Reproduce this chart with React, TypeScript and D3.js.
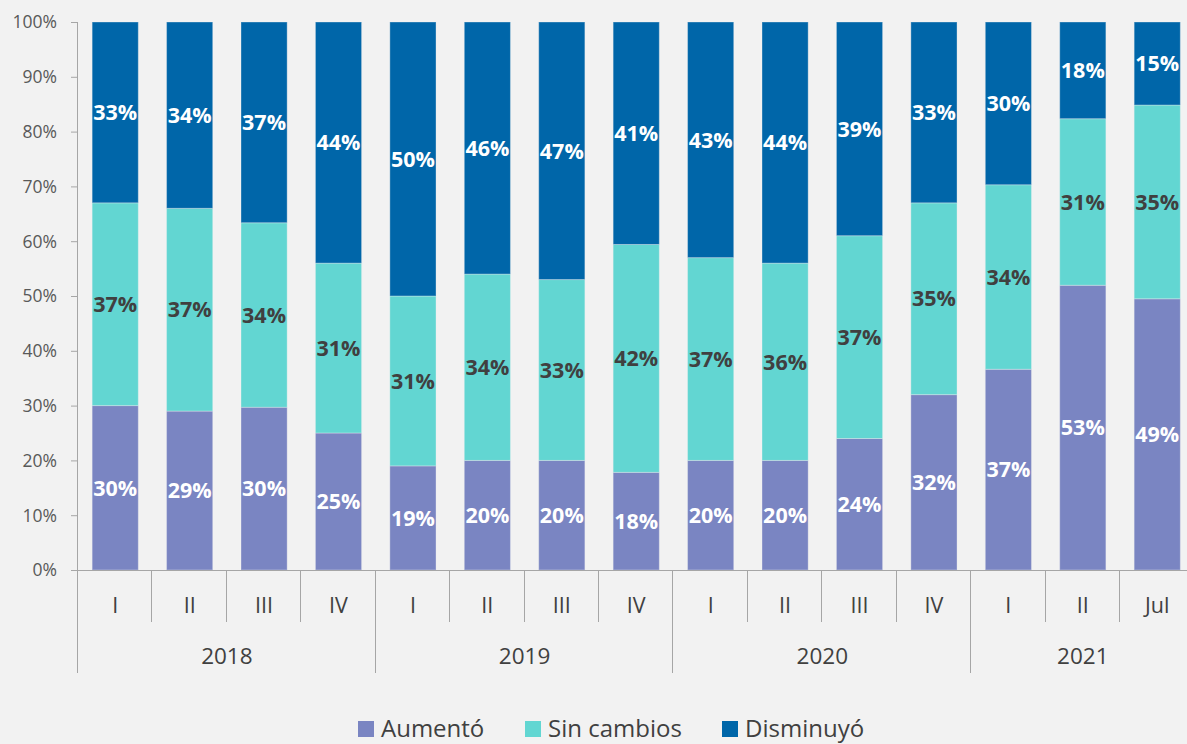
import * as d3 from 'd3'
import { useEffect, useRef } from 'react'

const W = 1187
const H = 744
const margin = { top: 22, left: 78, bottom: 174 }
const bandStep = 74.43

const periods = ['I', 'II', 'III', 'IV', 'I', 'II', 'III', 'IV', 'I', 'II', 'III', 'IV', 'I', 'II', 'Jul']
const years = ['2018', '2019', '2020', '2021']
const yearSpans = [4, 4, 4, 3]

const aumento = [30, 29, 30, 25, 19, 20, 20, 18, 20, 20, 24, 32, 37, 53, 49]
const sinCambios = [37, 37, 34, 31, 31, 34, 33, 42, 37, 36, 37, 35, 34, 31, 35]
const disminuyo = [33, 34, 37, 44, 50, 46, 47, 41, 43, 44, 39, 33, 30, 18, 15]

const seriesNames = ['Aumentó', 'Sin cambios', 'Disminuyó']
const seriesColors = ['#7a85c2', '#62d6d2', '#0066a9']
const labelColors = ['#ffffff', '#404040', '#ffffff']
const yTicks = [0, 0.1, 0.2, 0.3, 0.4, 0.5, 0.6, 0.7, 0.8, 0.9, 1]

const font = '"Open Sans", sans-serif'

export default function App() {
  const ref = useRef<SVGSVGElement>(null)

  useEffect(() => {
    const svg = d3.select(ref.current)
    svg.selectAll('*').remove()

    const rows = periods.map((p, i) => ({
      i: String(i),
      a: aumento[i],
      s: sinCambios[i],
      d: disminuyo[i],
    }))
    const stack = d3
      .stack<any>()
      .keys(['a', 's', 'd'])
      .offset(d3.stackOffsetExpand)
    const layers = stack(rows)
    const values = [aumento, sinCambios, disminuyo]

    const x = d3
      .scaleBand()
      .domain(rows.map((r) => r.i))
      .range([margin.left, margin.left + bandStep * periods.length])
      .paddingInner(0.38)
      .paddingOuter(0.19)
    const y = d3.scaleLinear().domain([0, 1]).range([H - margin.bottom, margin.top])
    const y0 = y(0)
    const axisColor = '#a6a6a6'

    svg.append('rect').attr('width', W).attr('height', H).attr('fill', '#f2f2f2')

    // bars + labels
    layers.forEach((layer, k) => {
      const g = svg.append('g')
      g.selectAll('rect')
        .data(layer)
        .join('rect')
        .attr('x', (_, i) => x(String(i))!)
        .attr('width', x.bandwidth())
        .attr('y', (d) => y(d[1]))
        .attr('height', (d) => y(d[0]) - y(d[1]))
        .attr('fill', seriesColors[k])
        .attr('stroke', '#f2f2f2')
        .attr('stroke-opacity', 0.35)
        .attr('stroke-width', 1)
      g.selectAll('text')
        .data(layer)
        .join('text')
        .attr('x', (_, i) => x(String(i))! + x.bandwidth() / 2)
        .attr('y', (d) => (y(d[0]) + y(d[1])) / 2)
        .attr('dy', '0.36em')
        .attr('text-anchor', 'middle')
        .attr('font-family', font)
        .attr('font-weight', 'bold')
        .attr('font-size', 21.5)
        .attr('fill', labelColors[k])
        .text((_, i) => `${values[k][i]}%`)
    })

    // y axis
    const yAxis = svg.append('g')
    yAxis
      .append('line')
      .attr('x1', margin.left - 0.5)
      .attr('x2', margin.left - 0.5)
      .attr('y1', y(1))
      .attr('y2', y0)
      .attr('stroke', axisColor)
    yAxis
      .selectAll('line.tick')
      .data(yTicks)
      .join('line')
      .attr('class', 'tick')
      .attr('x1', margin.left - 7)
      .attr('x2', margin.left)
      .attr('y1', (d) => y(d) + 0.5)
      .attr('y2', (d) => y(d) + 0.5)
      .attr('stroke', axisColor)
    yAxis
      .selectAll('text')
      .data(yTicks)
      .join('text')
      .attr('x', 57)
      .attr('y', (d) => y(d))
      .attr('dy', '0.36em')
      .attr('text-anchor', 'end')
      .attr('font-family', font)
      .attr('font-size', 17.5)
      .attr('fill', '#595959')
      .text((d) => d3.format('.0%')(d))

    // x axis
    const xAxis = svg.append('g')
    xAxis
      .append('line')
      .attr('x1', margin.left - 7)
      .attr('x2', W)
      .attr('y1', y0 + 0.5)
      .attr('y2', y0 + 0.5)
      .attr('stroke', axisColor)
    const boundaries = d3.range(periods.length + 1)
    const yearStarts = Array.from(d3.cumsum([0, ...yearSpans]))
    xAxis
      .selectAll('line.sep')
      .data(boundaries)
      .join('line')
      .attr('class', 'sep')
      .attr('x1', (b) => Math.round(margin.left + b * bandStep) - 0.5)
      .attr('x2', (b) => Math.round(margin.left + b * bandStep) - 0.5)
      .attr('y1', y0)
      .attr('y2', (b) => (yearStarts.includes(b) ? 673 : 622))
      .attr('stroke', axisColor)
    xAxis
      .selectAll('text.per')
      .data(periods)
      .join('text')
      .attr('class', 'per')
      .attr('x', (_, i) => x(String(i))! + x.bandwidth() / 2)
      .attr('y', 605)
      .attr('dy', '0.36em')
      .attr('text-anchor', 'middle')
      .attr('font-family', font)
      .attr('font-size', 21.5)
      .attr('fill', '#404040')
      .text((d) => d)
    xAxis
      .selectAll('text.yr')
      .data(years)
      .join('text')
      .attr('class', 'yr')
      .attr('x', (_, j) => margin.left + ((yearStarts[j] + yearStarts[j + 1]) / 2) * bandStep)
      .attr('y', 656)
      .attr('dy', '0.36em')
      .attr('text-anchor', 'middle')
      .attr('font-family', font)
      .attr('font-size', 22.5)
      .attr('fill', '#404040')
      .text((d) => d)

    // legend
    const legendX = [358, 525, 722]
    const legend = svg.append('g')
    seriesNames.forEach((name, k) => {
      legend
        .append('rect')
        .attr('x', legendX[k])
        .attr('y', 721)
        .attr('width', 16)
        .attr('height', 16)
        .attr('fill', seriesColors[k])
      legend
        .append('text')
        .attr('x', legendX[k] + 23)
        .attr('y', 737)
        .attr('font-family', font)
        .attr('font-size', 24)
        .attr('fill', '#404040')
        .text(name)
    })
  }, [])

  return (
    <div style={{ width: W, height: H, overflow: 'hidden', position: 'absolute', left: 0, top: 0 }}>
      <svg ref={ref} width={W} height={H} />
    </div>
  )
}
